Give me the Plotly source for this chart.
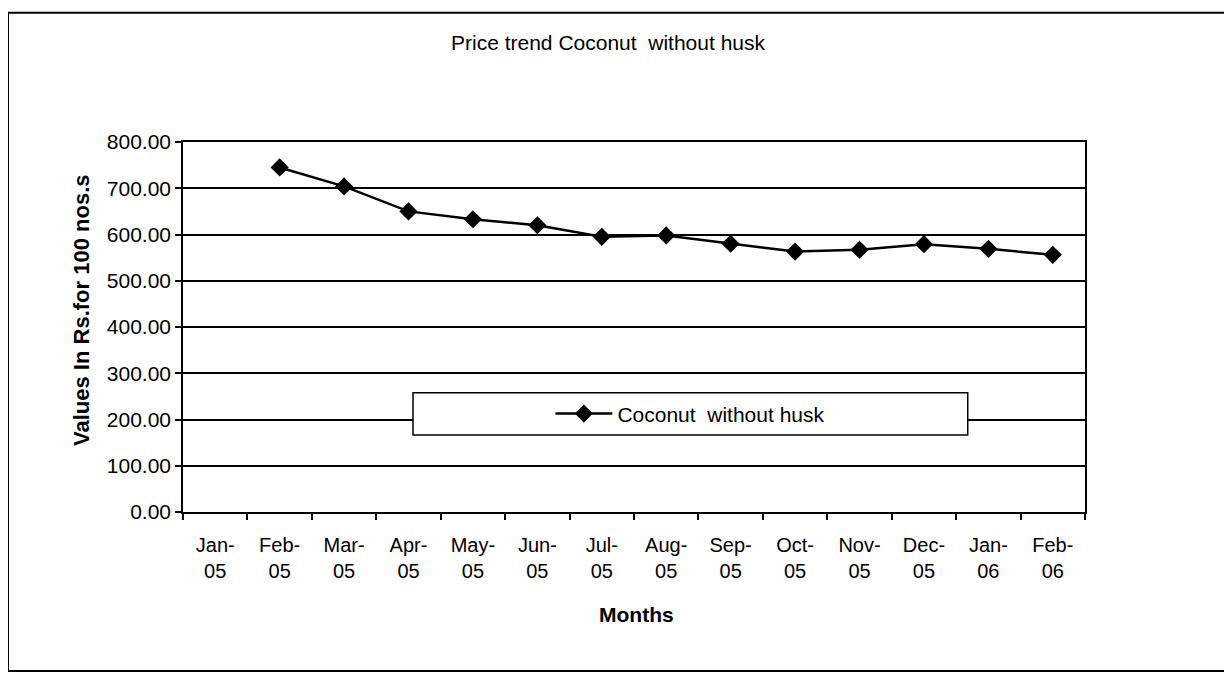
import plotly.graph_objects as go

months = ["Jan-<br>05", "Feb-<br>05", "Mar-<br>05", "Apr-<br>05", "May-<br>05", "Jun-<br>05",
          "Jul-<br>05", "Aug-<br>05", "Sep-<br>05", "Oct-<br>05", "Nov-<br>05", "Dec-<br>05",
          "Jan-<br>06", "Feb-<br>06"]
prices = [None, 745, 704, 650, 633, 620, 595, 598, 580, 563, 567, 579, 569, 556]
y_ticks = [0, 100, 200, 300, 400, 500, 600, 700, 800]

font = "Liberation Sans, Arial, sans-serif"

fig = go.Figure()
fig.add_trace(go.Scatter(
    x=months, y=prices, mode="lines+markers", name="Coconut  without husk",
    line=dict(color="black", width=2.5),
    marker=dict(symbol="diamond", size=14, color="black"),
))

fig.update_layout(
    width=1232, height=674,
    margin=dict(l=175, r=155, t=134, b=170),
    paper_bgcolor="white", plot_bgcolor="white",
    font=dict(family=font, size=20, color="black"),
    showlegend=True,
    legend=dict(x=0.5625, y=0.265, xanchor="center", yanchor="middle",
                bgcolor="rgba(0,0,0,0)", itemwidth=57, font=dict(size=21)),
    title=dict(text="Price trend Coconut  without husk", x=600 / 1232, y=1 - 35 / 674,
               xanchor="center", yanchor="middle", xref="container", yref="container",
               font=dict(size=21)),
)

fig.update_xaxes(
    type="category", range=[-0.5, 13.5], tickson="boundaries",
    ticks="outside", ticklen=6, tickcolor="black", tickwidth=1.5,
    showline=True, linecolor="black", linewidth=1.5, mirror=True,
    showgrid=False, tickfont=dict(size=20), ticklabelstandoff=14,
)
fig.update_yaxes(
    range=[0, 800], tickvals=y_ticks, tickformat=".2f",
    ticks="outside", ticklen=6, tickcolor="black", tickwidth=1.5,
    showline=True, linecolor="black", linewidth=1.5, mirror=True,
    showgrid=True, gridcolor="black", gridwidth=1.5, zeroline=False,
    tickfont=dict(size=21),
)

# axis titles
fig.add_annotation(text="<b>Months</b>", x=0.503, y=-0.276, xref="paper", yref="paper",
                   showarrow=False, font=dict(size=21), yanchor="middle")
fig.add_annotation(text="<b>Values In Rs.for 100 nos.s</b>", x=-0.112, y=0.546,
                   xref="paper", yref="paper", showarrow=False, textangle=-90,
                   font=dict(size=22), xanchor="center", yanchor="middle")

# legend box and outer frame
fig.add_shape(type="rect", xref="paper", yref="paper", x0=0.255, x1=0.870, y0=0.208, y1=0.322,
              fillcolor="white", line=dict(color="black", width=1.5), layer="above")
fig.add_shape(type="rect", xref="paper", yref="paper", x0=-0.194, x1=1.157, y0=-0.43, y1=1.349,
              line=dict(color="black", width=2))

fig.write_html("out.html")
